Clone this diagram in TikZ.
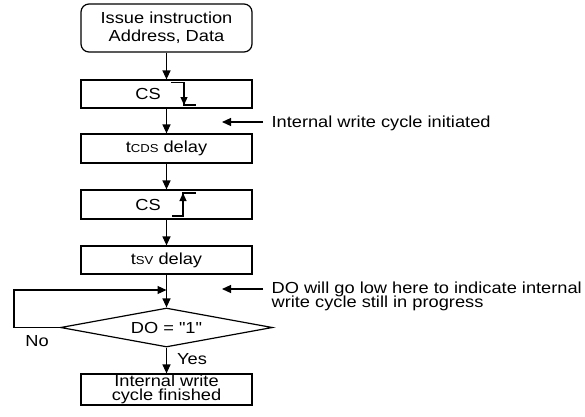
\documentclass[tikz,border=0pt]{standalone}
\usepackage{fontspec}
\setmainfont[FakeStretch=1.14, Ligatures=TeXOff]{Liberation Sans}
\usetikzlibrary{arrows.meta,shapes.geometric,calc}
\begin{document}
\lineskiplimit=-50pt\relax
\begin{tikzpicture}[x=1pt,y=-1pt,
  line width=1.2pt,
  txt/.style={font=\fontsize{16}{13.5}\selectfont},
  box/.style={draw, rectangle, minimum width=171pt, inner sep=0pt, align=center, txt},
  arr/.style={-{Triangle[length=9pt,width=8pt]}},
  sarr/.style={-{Triangle[length=8pt,width=7pt]}},
]
\useasboundingbox (0,0) rectangle (585,416);

\node[box, rounded corners=8pt, minimum height=48pt] (start) at (166.5,28) {Issue instruction\\[4.5pt]Address, Data};
\node[box, minimum height=28pt] (cs1) at (166.5,94) {CS\hspace{37pt}};
\node[box, minimum height=29pt] (tcds) at (166.5,148.5) {t{\fontsize{11.5}{11.5}\selectfont CDS} delay};
\node[box, minimum height=29pt] (cs2) at (166.5,204.5) {CS\hspace{37pt}};
\node[box, minimum height=28pt] (tsv) at (166.5,260) {t{\fontsize{11.5}{11.5}\selectfont SV} delay};
\node[draw, diamond, minimum width=212pt, minimum height=39pt, aspect=5.4, inner sep=0pt, txt] (dec) at (166.5,327.5) {DO = "1"};
\node[box, minimum height=31pt] (fin) at (166.5,389.5) {Internal write\\cycle finished};

\draw[arr] (start) -- (cs1);
\draw[arr] (cs1) -- (tcds);
\draw[arr] (tcds) -- (cs2);
\draw[arr] (cs2) -- (tsv);
\draw[arr] (tsv) -- (dec);
\draw[arr] (dec) -- (fin);

\coordinate (join) at (166.5,290);
\draw[arr] (dec.west) -- ++(-46,0) |- (join);

\node[txt, inner sep=0pt] (no) at (37,341.5) {No};
\node[txt, inner sep=0pt] (yes) at (192,359) {Yes};

% CS edge symbols
\draw (171,82.5) -- (184,82.5) -- (184,105) -- (196,105);
\draw[sarr] (184,92) -- (184,105);
\draw (172,216) -- (183,216) -- (183,193) -- (196,193);
\draw[sarr] (183,206) -- (183,193);

% annotations
\node[txt, anchor=base west, inner sep=0pt] (a1) at (271,127.5) {Internal write cycle initiated};
\coordinate (a1s) at (263,122);
\coordinate (a1e) at (222,122);
\draw[arr] (a1s) -- (a1e);

\node[txt, anchor=north west, inner sep=0pt, align=left] (a2) at (271,281.5) {DO will go low here to indicate internal\\write cycle still in progress};
\coordinate (a2s) at (263,289);
\coordinate (a2e) at (222,289);
\draw[arr] (a2s) -- (a2e);
\end{tikzpicture}
\end{document}
